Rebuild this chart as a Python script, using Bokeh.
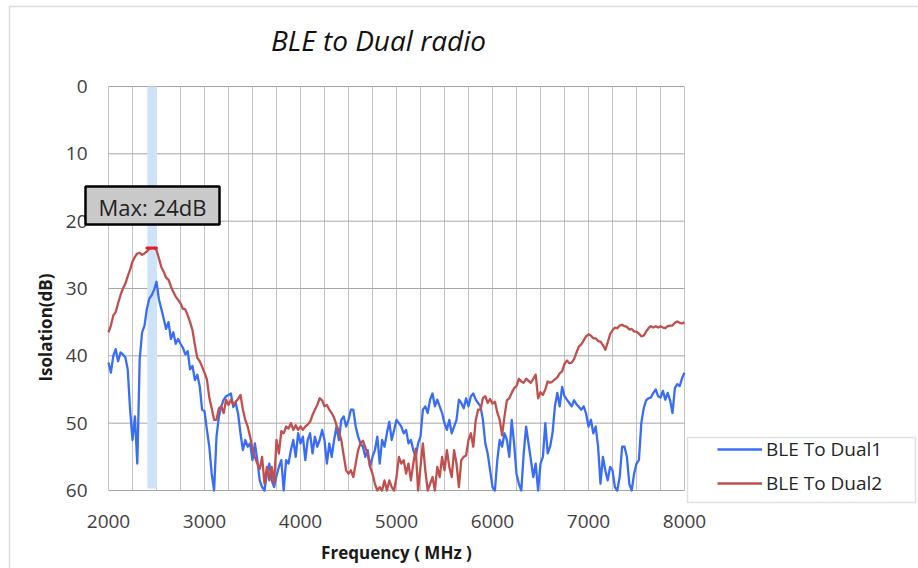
from math import pi

from bokeh.plotting import figure
from bokeh.models import (Range1d, FixedTicker, LinearAxis, Label, BoxAnnotation,
                          Legend, LegendItem)
from bokeh.embed import file_html
from bokeh.resources import INLINE

# Sweep grid (MHz) and measured isolation (dB) for both radio paths.
# Readings below the 60 dB floor of the chart are recorded at the floor.
freq_start, freq_stop, freq_step = 2000, 8000, 25
freq_mhz = list(range(freq_start, freq_stop + 1, freq_step))

ble_to_dual1 = [
    41, 42.5, 40, 39, 40.8, 39.5, 39.8, 40.2, 42, 48,            # 2000-2225
    52.5, 49, 56, 40.5, 36.5, 35.5, 33, 31.5, 31, 30.2,          # 2250-2475
    29, 31.6, 33, 34.5, 36, 35, 37.5, 36.5, 38.2, 37.5,          # 2500-2725
    38.2, 38.8, 39.8, 39.3, 42, 41.5, 43.6, 42.8, 44.5, 48,      # 2750-2975
    48.2, 51, 53.5, 57.5, 60, 52, 49, 47.5, 46.5, 46,            # 3000-3225
    45.8, 45.6, 47.6, 47, 48.6, 51.5, 54, 52.5, 53.5, 53,        # 3250-3475
    55.5, 53, 55.5, 58.5, 59.5, 60, 57.5, 56, 58.5, 59.5,        # 3500-3725
    57.8, 56.5, 55.5, 60, 55.5, 56, 54, 52.5, 55, 51.5,          # 3750-3975
    53, 52, 55.5, 52.5, 51.5, 54.5, 52, 53.5, 52.5, 51,          # 4000-4225
    52.5, 56, 53, 55, 52.5, 50.5, 52.5, 49.5, 49, 50.5,          # 4250-4475
    49.5, 48, 48, 50.5, 52, 53, 53.5, 55, 54, 56.5,              # 4500-4725
    55, 54, 52, 56, 52.5, 53.5, 51.5, 49.8, 52.5, 51,            # 4750-4975
    49.5, 50, 50.5, 51.5, 51, 53, 52.5, 54, 55, 53,              # 5000-5225
    52, 48, 47.5, 48.5, 46.5, 45.6, 47.5, 46.5, 47.5, 48.5,      # 5250-5475
    50, 51, 49.5, 51.5, 50.5, 49.5, 46.5, 47, 47.8, 46.3,        # 5500-5725
    47.5, 46, 45.6, 46.5, 47, 47.5, 49.5, 53, 54.5, 57,          # 5750-5975
    59.5, 60, 55.5, 52.5, 53.5, 51.5, 52.5, 55, 49.5, 53,        # 6000-6225
    57.5, 59, 60, 54.5, 50.5, 53, 55.5, 58, 56, 60,              # 6250-6475
    56, 55, 50, 54.5, 53.5, 51.5, 47.5, 45.5, 47.5, 44.6,        # 6500-6725
    46, 46.5, 47, 47.5, 46.6, 47.2, 47.6, 48, 47.5, 48.6,        # 6750-6975
    50.5, 49.5, 51.5, 50.5, 53.5, 59, 55, 57, 58.5, 56.5,        # 7000-7225
    57, 59.5, 60, 58, 53.5, 53.5, 55, 59, 60, 57.5,              # 7250-7475
    56, 55.5, 50, 47.8, 46.6, 46.3, 46.2, 45.5, 45, 46,          # 7500-7725
    46.2, 45.2, 46.5, 45.5, 46.6, 48.5, 44.8, 44.2, 44.5, 43.3,  # 7750-7975
    42.5,                                                        # 8000
]

ble_to_dual2 = [
    36.5, 35.5, 34, 33.5, 32.2, 31, 30, 29.3, 28.2, 27.2,        # 2000-2225
    26, 25.3, 24.8, 24.7, 25, 24.8, 24.5, 24.1, 24, 24,          # 2250-2475
    24.3, 25.5, 26.8, 27.5, 28.4, 28.7, 29.7, 30.5, 31.2, 31.7,  # 2500-2725
    32.2, 33, 33.1, 34, 35, 36.2, 38.4, 40.3, 40.8, 41.6,        # 2750-2975
    42.5, 43.5, 46.2, 47.8, 49.5, 49.5, 47.8, 47.5, 48.5, 46.5,  # 3000-3225
    47.3, 46.5, 47.3, 46.8, 46.4, 45.8, 48, 49.5, 50.5, 52,      # 3250-3475
    53.8, 55, 56, 56.8, 55, 59, 56.5, 58.5, 56.5, 59,            # 3500-3725
    52.5, 54.5, 51.2, 51.5, 50.5, 50.8, 50, 51, 50.3, 51,        # 3750-3975
    50.5, 51, 50.5, 50.2, 49.8, 48.8, 48, 47.3, 46.3, 46.6,      # 4000-4225
    47.5, 47.3, 48, 48.5, 49.2, 50.3, 51.3, 52.5, 54.8, 57,      # 4250-4475
    57.5, 57, 58, 56, 54, 53, 52.6, 53.6, 54.6, 56.5,            # 4500-4725
    57.5, 59, 60, 59.5, 60, 58.5, 60, 58.5, 59.5, 60,            # 4750-4975
    58, 55, 56, 55.5, 57.5, 56, 58.5, 56, 53.8, 60,              # 5000-5225
    56.5, 53, 57, 60, 59, 58, 60, 56.5, 58, 55,                  # 5250-5475
    57, 54, 56.5, 58, 54, 56, 59.5, 55.5, 55, 54.8,              # 5500-5725
    52.5, 51.5, 53.5, 49.6, 48, 48, 46.3, 46, 47, 46.4,          # 5750-5975
    47.1, 46.8, 48.4, 49.5, 51.8, 49, 46.6, 46.3, 45.5, 44.8,    # 6000-6225
    44.5, 43.4, 43.8, 44, 43.4, 43.7, 44, 43.4, 42.8, 46.3,      # 6250-6475
    45.4, 45.8, 45, 43.8, 44, 43.8, 43.5, 43.2, 42.6, 42.3,      # 6500-6725
    41.2, 40.7, 41.1, 41, 40.5, 39.5, 38.6, 38.3, 37.7, 37.1,    # 6750-6975
    36.8, 37, 37.4, 37.4, 37.8, 37.9, 38.4, 39.1, 38, 36.8,      # 7000-7225
    36.2, 35.8, 35.9, 35.5, 35.4, 35.6, 35.7, 36.1, 36, 36.4,    # 7250-7475
    36.4, 36.7, 37.1, 37, 36.4, 35.9, 35.6, 35.8, 35.6, 35.8,    # 7500-7725
    35.6, 35.8, 35.9, 35.6, 35.5, 35.5, 35.1, 34.9, 35.1, 35.2,  # 7750-7975
    35,                                                          # 8000
]

series_names = ["BLE To Dual1", "BLE To Dual2"]
series_colors = ["#3a6df5", "#c0504d"]

x_ticks = [2000, 3000, 4000, 5000, 6000, 7000, 8000]
x_grid = list(range(2000, 8001, 250))
y_ticks = [0, 10, 20, 30, 40, 50, 60]

ble_band_mhz = (2405, 2505)
max_band = (2400, 2500)
max_isolation_db = 24

title_text = "BLE to Dual radio"
x_label = "Frequency ( MHz )"
y_label = "Isolation(dB)"

FONT = "Open Sans"
TEXT_COLOR = "#404040"

# ---- page geometry: the plotting area occupies 108..684 px across, 86..490 px down
W, H = 918, 568
AREA_L, AREA_R, AREA_T, AREA_B = 108, 684, 86, 490
X0, X1 = 2000, 8000
Y0, Y1 = 0, 60


def fx(px):
    return X0 + (px - AREA_L) * (X1 - X0) / (AREA_R - AREA_L)


def fy(py):
    return Y0 + (py - AREA_T) * (Y1 - Y0) / (AREA_B - AREA_T)


# the frame covers the whole canvas so titles, legend and callout are free to sit anywhere
p = figure(
    width=W, height=H,
    x_range=Range1d(fx(0), fx(W)), y_range=Range1d(fy(H), fy(0)),
    x_axis_type=None, y_axis_type=None,
    output_backend="svg", toolbar_location=None, min_border=0,
)
p.outline_line_color = None
p.background_fill_color = "white"
p.border_fill_color = "white"

# axes pinned to the plotting area edges
xaxis = LinearAxis(fixed_location=Y1, ticker=FixedTicker(ticks=x_ticks), bounds=(X0, X1))
yaxis = LinearAxis(fixed_location=X0, ticker=FixedTicker(ticks=y_ticks), bounds=(Y0, Y1))
for ax in (xaxis, yaxis):
    ax.axis_line_color = None
    ax.major_tick_line_color = None
    ax.minor_tick_line_color = None
    ax.major_tick_out = 0
    ax.major_tick_in = 0
    ax.major_label_text_font = FONT
    ax.major_label_text_font_size = "19px"
    ax.major_label_text_color = TEXT_COLOR
xaxis.major_label_standoff = 24
yaxis.major_label_standoff = 21
p.add_layout(xaxis, "below")
p.add_layout(yaxis, "left")

# grid lines, limited to the plotting area
p.segment(x0=x_grid, x1=x_grid, y0=[Y0] * len(x_grid), y1=[Y1] * len(x_grid),
          line_color="#c4c4c4", line_width=1)
p.segment(x0=[X0] * len(y_ticks), x1=[X1] * len(y_ticks), y0=y_ticks, y1=y_ticks,
          line_color="#a6a6a6", line_width=1)

# BLE band shading
p.quad(left=[ble_band_mhz[0]], right=[ble_band_mhz[1]], top=[Y0], bottom=[59.7],
       fill_color="#cfe3f8", line_color=None)

r1 = p.line(freq_mhz, ble_to_dual1, line_color=series_colors[0], line_width=2.3,
            line_join="round")
r2 = p.line(freq_mhz, ble_to_dual2, line_color=series_colors[1], line_width=2.3,
            line_join="round")

# max marker within the band
p.segment(x0=[max_band[0]], x1=[max_band[1]], y0=[max_isolation_db], y1=[max_isolation_db],
          line_color="#e51c2b", line_width=3, line_cap="round")

# outer chart border (top and left edges fall inside the page)
p.add_layout(BoxAnnotation(left=fx(9), right=fx(W + 40), top=fy(6), bottom=fy(H + 40),
                           fill_alpha=0, line_color="#8c8c8c", line_width=1.5))

# title
p.add_layout(Label(x=fx(378), y=fy(39), text=title_text, text_align="center",
                   text_baseline="middle", text_font=FONT, text_font_style="italic",
                   text_font_size="28px", text_color="#111111"))

# axis titles
p.add_layout(Label(x=fx(396), y=fy(552), text=x_label, text_align="center",
                   text_baseline="middle", text_font=FONT, text_font_style="bold",
                   text_font_size="17px", text_color="#1a1a1a"))
p.add_layout(Label(x=fx(45), y=fy(327), text=y_label, angle=pi / 2, text_align="center",
                   text_baseline="middle", text_font=FONT, text_font_style="bold",
                   text_font_size="17px", text_color="#1a1a1a"))

# callout
p.add_layout(BoxAnnotation(left=fx(85), right=fx(219), top=fy(186), bottom=fy(224),
                           fill_color="#c9c9c9", fill_alpha=1, line_color="black",
                           line_alpha=1, line_width=2.5))
p.add_layout(Label(x=fx(152), y=fy(206), text=f"Max: {max_isolation_db}dB",
                   text_align="center", text_baseline="middle", text_font=FONT,
                   text_font_size="22px", text_color="#222222"))

# legend frame and entries
p.add_layout(BoxAnnotation(left=fx(687), right=fx(915), top=fy(437), bottom=fy(502),
                           fill_color="white", fill_alpha=1, line_color="#9a9a9a",
                           line_width=1.5))
legend = Legend(
    items=[LegendItem(label=series_names[0], renderers=[r1]),
           LegendItem(label=series_names[1], renderers=[r2])],
    location=(717, H - 496),
    orientation="vertical",
    padding=0, margin=0, spacing=8,
    glyph_width=45, glyph_height=20, label_height=20, label_standoff=4,
    border_line_color=None, background_fill_alpha=0,
    label_text_font=FONT, label_text_font_size="19px", label_text_color="#262626",
)
p.add_layout(legend)

open("out.html", "w").write(file_html(p, INLINE))
